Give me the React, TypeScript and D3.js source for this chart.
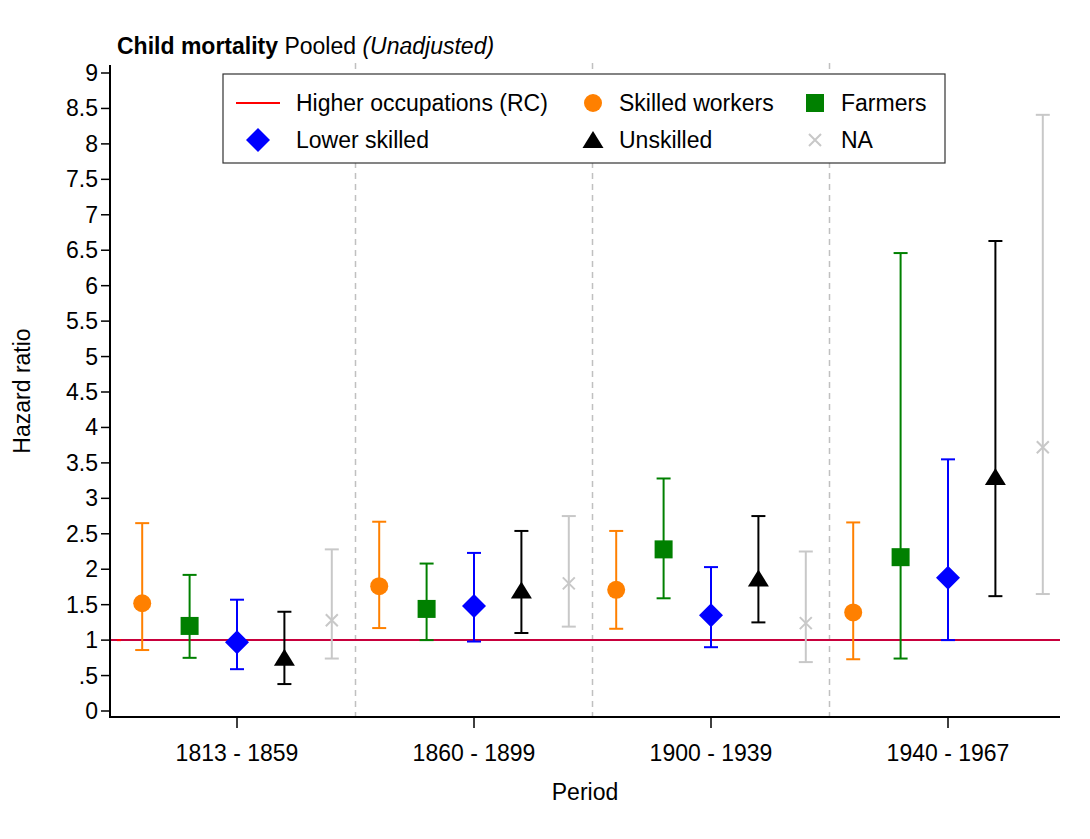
import React from "react";
import * as d3 from "d3";

const periods = ["1813 - 1859", "1860 - 1899", "1900 - 1939", "1940 - 1967"];
const yTicks = [0, 0.5, 1, 1.5, 2, 2.5, 3, 3.5, 4, 4.5, 5, 5.5, 6, 6.5, 7, 7.5, 8, 8.5, 9];

const skilledEst = [1.52, 1.76, 1.71, 1.39];
const skilledLo = [0.86, 1.17, 1.16, 0.73];
const skilledHi = [2.65, 2.67, 2.54, 2.66];

const farmersEst = [1.2, 1.44, 2.28, 2.17];
const farmersLo = [0.75, 1.0, 1.59, 0.74];
const farmersHi = [1.92, 2.08, 3.28, 6.46];

const lowerEst = [0.97, 1.48, 1.35, 1.88];
const lowerLo = [0.59, 0.98, 0.9, 1.0];
const lowerHi = [1.57, 2.23, 2.03, 3.55];

const unskilledEst = [0.75, 1.7, 1.87, 3.3];
const unskilledLo = [0.38, 1.1, 1.25, 1.62];
const unskilledHi = [1.4, 2.54, 2.75, 6.63];

const naEst = [1.28, 1.8, 1.24, 3.72];
const naLo = [0.74, 1.19, 0.69, 1.65];
const naHi = [2.28, 2.75, 2.25, 8.41];

type Shape = "circle" | "square" | "diamond" | "triangle" | "x" | "line";

const series: { name: string; color: string; shape: Shape; offset: number; est: number[]; lo: number[]; hi: number[] }[] = [
  { name: "Skilled workers", color: "#FF8000", shape: "circle", offset: -0.4, est: skilledEst, lo: skilledLo, hi: skilledHi },
  { name: "Farmers", color: "#008000", shape: "square", offset: -0.2, est: farmersEst, lo: farmersLo, hi: farmersHi },
  { name: "Lower skilled", color: "#0000FF", shape: "diamond", offset: 0, est: lowerEst, lo: lowerLo, hi: lowerHi },
  { name: "Unskilled", color: "#000000", shape: "triangle", offset: 0.2, est: unskilledEst, lo: unskilledLo, hi: unskilledHi },
  { name: "NA", color: "#C8C8C8", shape: "x", offset: 0.4, est: naEst, lo: naLo, hi: naHi },
];

const legendItems: { name: string; color: string; shape: Shape }[] = [
  { name: "Higher occupations (RC)", color: "#FF0000", shape: "line" },
  { name: "Skilled workers", color: "#FF8000", shape: "circle" },
  { name: "Farmers", color: "#008000", shape: "square" },
  { name: "Lower skilled", color: "#0000FF", shape: "diamond" },
  { name: "Unskilled", color: "#000000", shape: "triangle" },
  { name: "NA", color: "#C8C8C8", shape: "x" },
];

const FONT = "'Liberation Sans', Arial, Helvetica, sans-serif";
const FS = 23;

function Marker({ shape, color, cx, cy }: { shape: Shape; color: string; cx: number; cy: number }) {
  switch (shape) {
    case "circle":
      return <circle cx={cx} cy={cy} r={9} fill={color} />;
    case "square":
      return <rect x={cx - 9} y={cy - 9} width={18} height={18} fill={color} />;
    case "diamond":
      return <path d={`M${cx},${cy - 12}L${cx + 12},${cy}L${cx},${cy + 12}L${cx - 12},${cy}Z`} fill={color} />;
    case "triangle":
      return <path d={`M${cx},${cy - 9}L${cx + 10.5},${cy + 8}L${cx - 10.5},${cy + 8}Z`} fill={color} />;
    case "x":
      return (
        <path
          d={`M${cx - 6},${cy - 6}L${cx + 6},${cy + 6}M${cx - 6},${cy + 6}L${cx + 6},${cy - 6}`}
          stroke={color}
          strokeWidth={2}
        />
      );
    case "line":
      return <line x1={cx - 22} x2={cx + 22} y1={cy} y2={cy} stroke={color} strokeWidth={2} />;
  }
}

export default function App() {
  const W = 1090;
  const H = 839;
  const left = 110;
  const right = 1060;
  const top = 65;
  const axisY = 717;

  const x = d3.scaleLinear().domain([1, 2]).range([237, 474]);
  const y = d3.scaleLinear().domain([0, 9]).range([711, 73]);

  const fmt = (v: number) => (v === 0.5 ? ".5" : String(v));

  const legX = 223;
  const legY = 74;
  const legW = 722;
  const legH = 89;
  const colSym = [258, 593, 815];
  const colTxt = [296, 619, 841];
  const rowY = [103, 140];

  return (
    <svg width={W} height={H} style={{ display: "block", position: "absolute", left: 0, top: 0 }} fontFamily={FONT}>
      <rect width={W} height={H} fill="#fff" />
      {/* title */}
      <text x={117} y={54} fontSize={FS} fill="#000">
        <tspan fontWeight="bold">Child mortality</tspan>
        <tspan> Pooled </tspan>
        <tspan fontStyle="italic">(Unadjusted)</tspan>
      </text>

      {/* dashed separators */}
      {[1.5, 2.5, 3.5].map((v) => (
        <line key={v} x1={x(v)} x2={x(v)} y1={top - 2} y2={axisY} stroke="#C0C0C0" strokeWidth={1.5} strokeDasharray="6,5" />
      ))}

      {/* reference line */}
      <line x1={left} x2={right} y1={y(1)} y2={y(1)} stroke="#C8003C" strokeWidth={2} />
      <line x1={117} x2={121} y1={y(1)} y2={y(1)} stroke="#FF0000" strokeWidth={2} />

      {/* series */}
      {series.map((s) =>
        periods.map((p, i) => {
          const cx = x(i + 1 + s.offset);
          return (
            <g key={s.name + p}>
              <line x1={cx} x2={cx} y1={y(s.lo[i])} y2={y(s.hi[i])} stroke={s.color} strokeWidth={2} />
              <line x1={cx - 7} x2={cx + 7} y1={y(s.lo[i])} y2={y(s.lo[i])} stroke={s.color} strokeWidth={2} />
              <line x1={cx - 7} x2={cx + 7} y1={y(s.hi[i])} y2={y(s.hi[i])} stroke={s.color} strokeWidth={2} />
              <Marker shape={s.shape} color={s.color} cx={cx} cy={y(s.est[i])} />
            </g>
          );
        })
      )}

      {/* y axis */}
      <line x1={left} x2={left} y1={top} y2={axisY + 1} stroke="#000" strokeWidth={2} />
      {yTicks.map((t) => (
        <g key={t}>
          <line x1={left - 9} x2={left} y1={y(t)} y2={y(t)} stroke="#000" strokeWidth={1.5} />
          <text x={left - 12} y={y(t)} dy="0.35em" textAnchor="end" fontSize={FS} fill="#000">
            {fmt(t)}
          </text>
        </g>
      ))}

      {/* x axis */}
      <line x1={left - 1} x2={right} y1={axisY} y2={axisY} stroke="#000" strokeWidth={2} />
      {periods.map((p, i) => (
        <g key={p}>
          <line x1={x(i + 1)} x2={x(i + 1)} y1={axisY} y2={axisY + 11} stroke="#000" strokeWidth={1.5} />
          <text x={x(i + 1)} y={761} textAnchor="middle" fontSize={FS} fill="#000" style={{ whiteSpace: "pre" }}>
            {p}
          </text>
        </g>
      ))}

      {/* axis titles */}
      <text x={(left + right) / 2} y={800} textAnchor="middle" fontSize={FS} fill="#000">
        Period
      </text>
      <text transform={`translate(30, ${(top + axisY) / 2}) rotate(-90)`} textAnchor="middle" fontSize={FS} fill="#000">
        Hazard ratio
      </text>

      {/* legend */}
      <rect x={legX} y={legY} width={legW} height={legH} fill="#fff" stroke="#333" strokeWidth={1.2} />
      {legendItems.map((it, k) => {
        const col = k % 3;
        const row = Math.floor(k / 3);
        return (
          <g key={it.name}>
            <Marker shape={it.shape} color={it.color} cx={colSym[col]} cy={rowY[row]} />
            <text x={colTxt[col]} y={rowY[row]} dy="0.36em" fontSize={FS} fill="#000">
              {it.name}
            </text>
          </g>
        );
      })}
    </svg>
  );
}
